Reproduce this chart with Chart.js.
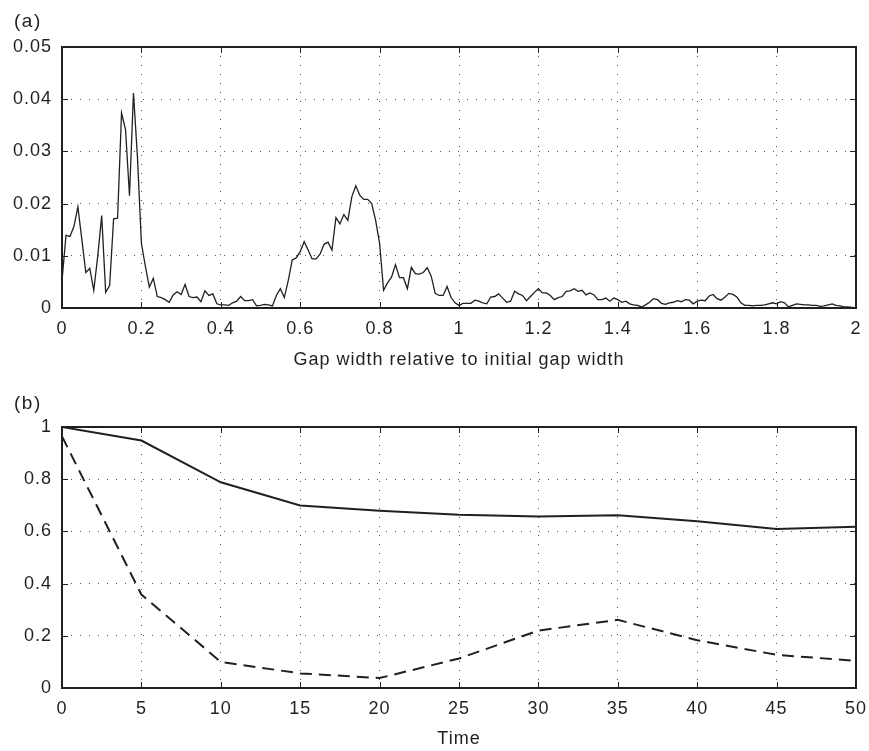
<!DOCTYPE html>
<html><head><meta charset="utf-8">
<script src="https://cdn.jsdelivr.net/npm/chart.js@4.4.0/dist/chart.umd.min.js"></script>
<style>
html,body{margin:0;padding:0;background:#fff;}
body{width:869px;height:751px;position:relative;overflow:hidden;font-family:"Liberation Sans",Arial,sans-serif;color:#231f20;}
.wrap{position:absolute;left:0;width:869px;}
#wa{top:0;height:380px;}
#wb{top:380px;height:371px;}
.lab{position:absolute;font-size:19px;line-height:19px;left:14px;letter-spacing:1.5px;}
</style></head><body>
<div class="wrap" id="wa"><canvas id="ca" width="869" height="380"></canvas></div>
<div class="wrap" id="wb"><canvas id="cb" width="869" height="371"></canvas></div>
<div class="lab" style="top:11px">(a)</div>
<div class="lab" style="top:393px">(b)</div>
<script>
// ---- Panel (a): gap-width distribution ----
const gapStep = 0.01;
const gapWidth = Array.from({length: 201}, (_, i) => +(i * gapStep).toFixed(2));
const frequency = [
 0.0052,0.0139,0.0137,0.0156,0.0194,0.0131,0.0068,0.0076,0.0034,0.0099,
 0.0177,0.0030,0.0043,0.0171,0.0172,0.0374,0.0342,0.0215,0.0412,0.0290,
 0.0124,0.0080,0.0040,0.0057,0.0022,0.0020,0.0016,0.0011,0.0025,0.0031,
 0.0026,0.0045,0.0022,0.0020,0.0021,0.0012,0.0033,0.0024,0.0027,0.0008,
 0.0006,0.0006,0.0005,0.0010,0.0013,0.0022,0.0014,0.0014,0.0016,0.0004,
 0.0005,0.0007,0.0006,0.0004,0.0024,0.0037,0.0020,0.0053,0.0092,0.0096,
 0.0108,0.0127,0.0111,0.0094,0.0094,0.0103,0.0122,0.0126,0.0111,0.0173,
 0.0161,0.0179,0.0168,0.0213,0.0234,0.0216,0.0208,0.0208,0.0200,0.0168,
 0.0124,0.0034,0.0048,0.0059,0.0083,0.0058,0.0058,0.0037,0.0078,0.0066,
 0.0065,0.0068,0.0077,0.0061,0.0028,0.0024,0.0024,0.0041,0.0020,0.0010,
 0.0005,0.0009,0.0009,0.0009,0.0015,0.0013,0.0010,0.0008,0.0021,0.0022,
 0.0027,0.0019,0.0011,0.0013,0.0032,0.0027,0.0024,0.0014,0.0022,0.0030,
 0.0037,0.0029,0.0029,0.0024,0.0016,0.0020,0.0022,0.0032,0.0033,0.0037,
 0.0032,0.0034,0.0025,0.0029,0.0025,0.0016,0.0016,0.0019,0.0013,0.0019,
 0.0016,0.0011,0.0013,0.0008,0.0006,0.0005,0.0002,0.0006,0.0011,0.0018,
 0.0016,0.0009,0.0007,0.0010,0.0011,0.0014,0.0012,0.0016,0.0015,0.0008,
 0.0013,0.0015,0.0014,0.0023,0.0026,0.0018,0.0015,0.0021,0.0028,0.0026,
 0.0021,0.0010,0.0005,0.0005,0.0004,0.0005,0.0005,0.0006,0.0008,0.0010,
 0.0008,0.0012,0.0010,0.0002,0.0005,0.0008,0.0007,0.0006,0.0006,0.0005,
 0.0005,0.0003,0.0004,0.0006,0.0008,0.0005,0.0004,0.0002,0.0002,0.0001,
 0.0000
];
const xTicksA = [0,0.2,0.4,0.6,0.8,1,1.2,1.4,1.6,1.8,2];
const yTicksA = [0,0.01,0.02,0.03,0.04,0.05];

// ---- Panel (b): time series ----
const time = [0,5,10,15,20,25,30,35,40,45,50];
const solidSeries  = [1.000,0.948,0.788,0.699,0.679,0.664,0.657,0.662,0.639,0.609,0.618];
const dashedSeries = [0.964,0.358,0.100,0.056,0.038,0.113,0.220,0.261,0.183,0.127,0.104];
const xTicksB = [0,5,10,15,20,25,30,35,40,45,50];
const yTicksB = [0,0.2,0.4,0.6,0.8,1];

const INK = '#231f20';
const FONT = {family:'"Liberation Sans", Arial, sans-serif', size:18};

const spacingPlugin = {
  id:'spacing',
  beforeInit(chart){ try { chart.ctx.letterSpacing = '1px'; } catch(e) {} },
  beforeDraw(chart){ try { chart.ctx.letterSpacing = '1px'; } catch(e) {} }
};

const boxPlugin = {
  id:'box',
  afterDatasetsDraw(chart){
    const {ctx, chartArea:a, scales:{x,y}} = chart;
    ctx.save();
    ctx.strokeStyle = INK;
    ctx.lineWidth = 1;
    ctx.setLineDash([]);
    x.ticks.forEach(t=>{
      const px = Math.round(x.getPixelForValue(t.value))+0.5;
      ctx.beginPath();
      ctx.moveTo(px,a.bottom); ctx.lineTo(px,a.bottom-6);
      ctx.moveTo(px,a.top); ctx.lineTo(px,a.top+6);
      ctx.stroke();
    });
    y.ticks.forEach(t=>{
      const py = Math.round(y.getPixelForValue(t.value))+0.5;
      ctx.beginPath();
      ctx.moveTo(a.left,py); ctx.lineTo(a.left+6,py);
      ctx.moveTo(a.right,py); ctx.lineTo(a.right-6,py);
      ctx.stroke();
    });
    ctx.lineWidth = 2;
    ctx.strokeRect(a.left,a.top,a.right-a.left,a.bottom-a.top);
    ctx.restore();
  }
};

function fixedTicks(list){
  return function(scale){ scale.ticks = list.map(v=>({value:v})); };
}

function axisX(min,max,ticks,title,height,titlePadBottom){
  return {
    type:'linear', min, max,
    afterBuildTicks: fixedTicks(ticks),
    afterFit(s){ s.height = height; s.paddingLeft = 0; s.paddingRight = 0; },
    grid:{color:'#555', lineWidth:1, drawTicks:false},
    border:{display:false, dash:[1,8]},
    ticks:{color:INK, font:FONT, padding:10, maxRotation:0, autoSkip:false,
      callback:v=>String(+(+v).toFixed(2))},
    title:{display:true, text:title, color:INK, font:FONT, padding:{top:0,bottom:titlePadBottom}}
  };
}
function axisY(min,max,ticks){
  return {
    type:'linear', min, max,
    afterBuildTicks: fixedTicks(ticks),
    afterFit(s){ s.width = 62; s.paddingTop = 0; s.paddingBottom = 0; },
    grid:{color:'#555', lineWidth:1, drawTicks:false},
    border:{display:false, dash:[1,8]},
    ticks:{color:INK, font:FONT, padding:10, autoSkip:false,
      callback:v=>String(+(+v).toFixed(2))}
  };
}

new Chart(document.getElementById('ca'), {
  type:'line',
  data:{datasets:[{
    data: gapWidth.map((g,i)=>({x:g, y:frequency[i]})),
    borderColor:INK, borderWidth:1.3, pointRadius:0, tension:0, fill:false
  }]},
  options:{
    responsive:false, animation:false, devicePixelRatio:1,
    layout:{padding:{left:0,right:13,top:47,bottom:0}},
    plugins:{legend:{display:false}, tooltip:{enabled:false}},
    scales:{
      x: axisX(0,2,xTicksA,'Gap width relative to initial gap width',72,9),
      y: axisY(0,0.05,yTicksA)
    }
  },
  plugins:[spacingPlugin, boxPlugin]
});

new Chart(document.getElementById('cb'), {
  type:'line',
  data:{datasets:[
    {data: time.map((t,i)=>({x:t,y:solidSeries[i]})), borderColor:INK, borderWidth:2, pointRadius:0, tension:0, fill:false},
    {data: time.map((t,i)=>({x:t,y:dashedSeries[i]})), borderColor:INK, borderWidth:2, borderDash:[12,7], pointRadius:0, tension:0, fill:false}
  ]},
  options:{
    responsive:false, animation:false, devicePixelRatio:1,
    layout:{padding:{left:0,right:13,top:47,bottom:0}},
    plugins:{legend:{display:false}, tooltip:{enabled:false}},
    scales:{
      x: axisX(0,50,xTicksB,'Time',63,1),
      y: axisY(0,1,yTicksB)
    }
  },
  plugins:[spacingPlugin, boxPlugin]
});
</script>
</body></html>
